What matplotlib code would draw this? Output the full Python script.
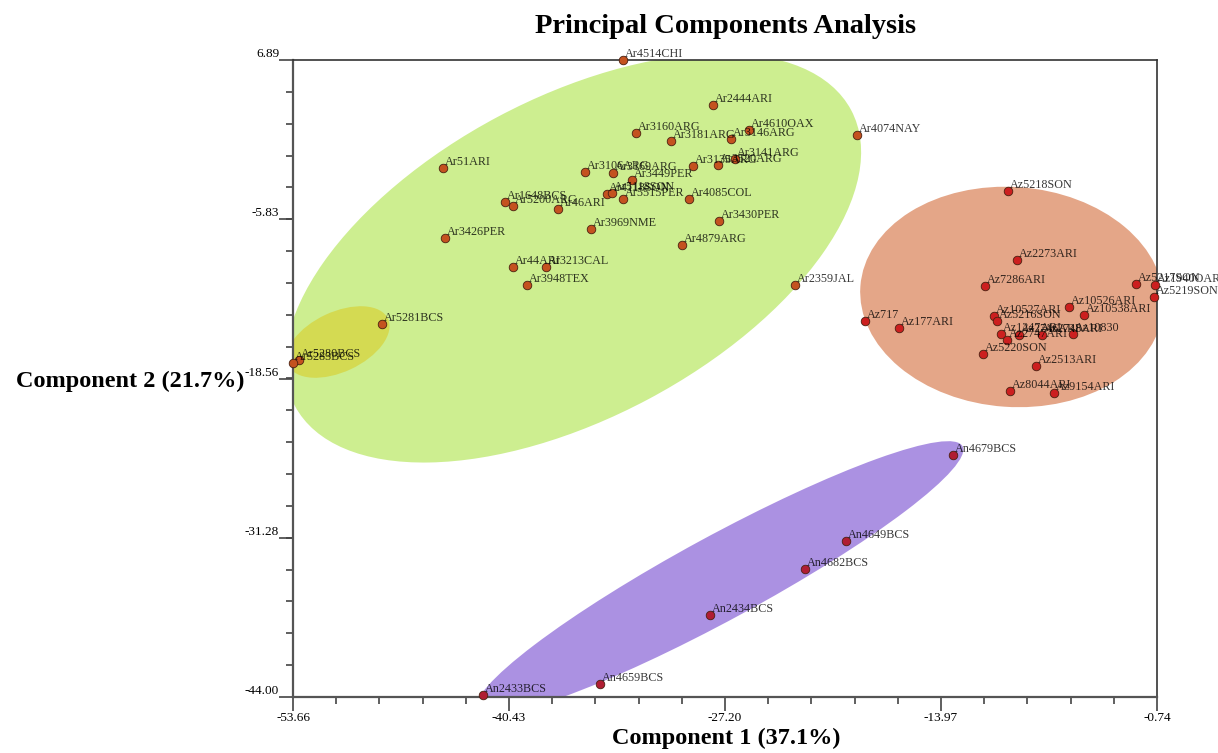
import numpy as np
import matplotlib
matplotlib.use("Agg")
import matplotlib.pyplot as plt
from matplotlib.patches import Ellipse
from matplotlib.transforms import ScaledTranslation

plt.rcParams["font.family"] = ["Liberation Serif", "DejaVu Serif"]

# group "Ar"
ar_labels = ["Ar4514CHI", "Ar2444ARI", "Ar3160ARG", "Ar3181ARG", "Ar3146ARG", "Ar4610OAX",
             "Ar4074NAY", "Ar51ARI", "Ar3106ARG", "Ar3169ARG", "Ar3449PER", "Ar3135ARG",
             "Ar3520ARG", "Ar3141ARG", "Ar4118SON", "Ar5118SON", "Ar5515PER", "Ar4085COL",
             "Ar1648BCS", "Ar5200ARG", "Ar46ARI", "Ar3430PER", "Ar3969NME", "Ar3426PER",
             "Ar4879ARG", "Ar44ARI", "Ar3213CAL", "Ar3948TEX", "Ar2359JAL", "Ar5281BCS",
             "Ar5280BCS", "Ar5283BCS"]
ar_x = [-33.45, -27.93, -32.65, -30.51, -26.83, -25.73, -19.11, -44.47, -35.77, -34.06,
        -32.90, -29.16, -27.63, -26.59, -34.43, -34.12, -33.45, -29.40, -40.67, -40.18,
        -37.43, -27.57, -35.41, -44.35, -29.83, -40.18, -38.16, -39.33, -22.91, -48.21,
        -53.29, -53.66]
ar_y = [6.89, 3.29, 1.06, 0.42, 0.58, 1.30, 0.90, -1.74, -2.06, -2.14,
        -2.70, -1.58, -1.50, -1.02, -3.82, -3.74, -4.21, -4.21, -4.45, -4.77,
        -5.01, -5.97, -6.61, -7.33, -7.89, -9.65, -9.65, -11.09, -11.09, -14.20,
        -17.08, -17.32]

# group "Az"
az_labels = ["Az5218SON", "Az2273ARI", "Az7286ARI", "Az5217SON", "Az1940OAR", "Az5219SON",
             "Az10526ARI", "Az10538ARI", "Az10527ARI", "Az5216SON", "Az717", "Az177ARI",
             "Az1247ARI", "Az2746ARI", "Az2748ARI", "Az10830", "Az2747ARI", "Az5220SON",
             "Az2513ARI", "Az8044ARI", "Az9154ARI"]
az_x = [-9.87, -9.31, -11.27, -2.03, -0.86, -0.92, -6.13, -5.21, -10.72, -10.54, -18.62,
        -16.54, -10.29, -9.19, -7.78, -5.88, -9.93, -11.40, -8.15, -9.74, -7.05]
az_y = [-3.58, -9.09, -11.17, -11.01, -11.09, -12.04, -12.84, -13.48, -13.56, -13.96, -13.96,
        -14.52, -15.00, -15.08, -15.08, -15.00, -15.48, -16.60, -17.56, -19.55, -19.71]

# group "An"
an_labels = ["An4679BCS", "An4649BCS", "An4682BCS", "An2434BCS", "An4659BCS", "An2433BCS"]
an_x = [-13.23, -19.79, -22.30, -28.12, -34.86, -42.02]
an_y = [-24.67, -31.54, -33.77, -37.45, -42.96, -43.84]

x_ticks = [-53.66, -40.43, -27.20, -13.97, -0.74]
y_ticks = [-44.00, -31.28, -18.56, -5.83, 6.89]

fig = plt.figure(figsize=(12.18, 7.53), dpi=100)
ax = fig.add_axes([0.2406, 0.0744, 0.7093, 0.8459])
ax.set_xlim(x_ticks[0], x_ticks[-1])
ax.set_ylim(y_ticks[0], y_ticks[-1])


def add_ellipse(cx, cy, w_in, h_in, angle, color, alpha=1.0, z=1):
    # ellipse sized in screen inches, centred on a data point
    tr = fig.dpi_scale_trans + ScaledTranslation(cx, cy, ax.transData)
    e = Ellipse((0, 0), w_in, h_in, angle=angle, transform=tr,
                facecolor=color, edgecolor="none", alpha=alpha, zorder=z)
    ax.add_patch(e)


add_ellipse(-36.51, -8.93, 6.30, 3.20, 28, "#cdee90")
add_ellipse(-50.90, -15.64, 1.10, 0.60, 25, "#d5d84c", alpha=0.9, z=1.5)
add_ellipse(-9.62, -12.04, 3.04, 2.20, -4, "#e4a688")
add_ellipse(-27.51, -34.49, 5.52, 0.84, 28.5, "#ab91e2")

groups = [(ar_x, ar_y, ar_labels, "#c4521f"),
          (az_x, az_y, az_labels, "#cc1f1f"),
          (an_x, an_y, an_labels, "#b01d33")]
for xs, ys, labels, col in groups:
    ax.scatter(xs, ys, s=38, color=col, edgecolor="#4a2010", linewidth=0.6,
               zorder=3, clip_on=False)
    for x, y, lab in zip(xs, ys, labels):
        ax.annotate(lab, (x, y), xytext=(1.5, 0), textcoords="offset points",
                    ha="left", va="bottom", fontsize=8.7, color="black",
                    alpha=0.78, zorder=4, annotation_clip=False)

ax.set_xticks(x_ticks)
ax.set_xticklabels([f"{v:.2f}" for v in x_ticks])
ax.set_yticks(y_ticks)
ax.set_yticklabels([f"{v:.2f}" for v in y_ticks], va="bottom")
ax.set_xticks(np.linspace(x_ticks[0], x_ticks[-1], 21), minor=True)
ax.set_yticks(np.linspace(y_ticks[0], y_ticks[-1], 21), minor=True)
ax.tick_params(which="major", direction="out", length=10, width=1.2,
               color="#444444", labelsize=9.5, pad=1)
ax.tick_params(axis="y", which="major", pad=0)
ax.tick_params(which="minor", direction="out", length=5, width=1.2, color="#444444")

for side in ["left", "bottom"]:
    ax.spines[side].set_linewidth(1.6)
    ax.spines[side].set_color("#555555")
for side in ["top", "right"]:
    ax.spines[side].set_linewidth(1.2)
    ax.spines[side].set_color("#333333")

fig.text(0.596, 0.965, "Principal Components Analysis", ha="center", va="center",
         fontsize=20.5, fontweight="bold")
fig.text(0.596, 0.02, "Component 1 (37.1%)", ha="center", va="center",
         fontsize=17.5, fontweight="bold")
fig.text(0.201, 0.494, "Component 2 (21.7%)", ha="right", va="center",
         fontsize=17.5, fontweight="bold")

fig.savefig("out.png", dpi=100)
